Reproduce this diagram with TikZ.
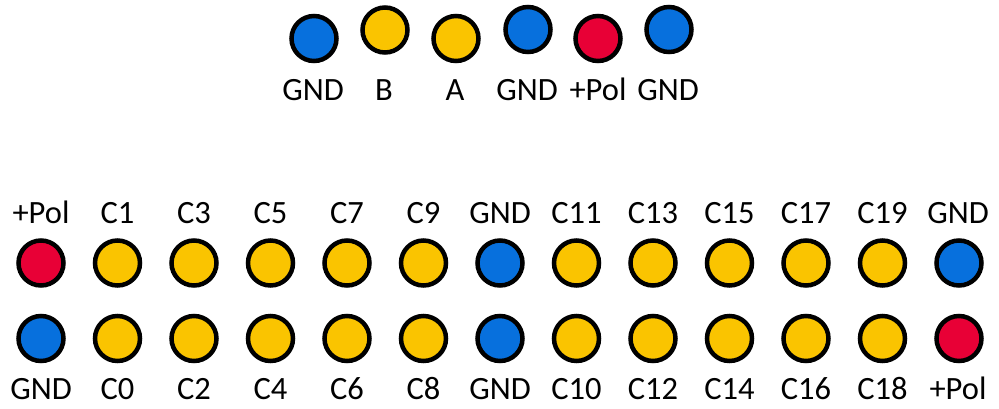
\documentclass[tikz,border=0pt]{standalone}
\usepackage{fontspec}
\setmainfont{Carlito}
\definecolor{pinblue}{RGB}{7,112,221}
\definecolor{pinyellow}{RGB}{250,196,0}
\definecolor{pinred}{RGB}{232,0,54}
\begin{document}
\begin{tikzpicture}[x=1pt,y=-1pt,
  pin/.style={circle,draw=black,line width=4.5pt,minimum size=45pt,inner sep=0pt},
  gnd/.style={pin,fill=pinblue},
  sig/.style={pin,fill=pinyellow},
  pol/.style={pin,fill=pinred},
  lbl/.style={anchor=base,inner sep=0pt,font=\fontsize{32.5}{36}\selectfont}]
\useasboundingbox (0,0) rectangle (999,408);
% top connector
\node[gnd] (t1) at (314,38.5) {};
\node[sig] (t2) at (385,30) {};
\node[sig] (t3) at (456,38.5) {};
\node[gnd] (t4) at (528,29.5) {};
\node[pol] (t5) at (598,38.5) {};
\node[gnd] (t6) at (669,29.5) {};
\node[lbl] (lt1) at (313,100) {GND};
\node[lbl] (lt2) at (384,100) {B};
\node[lbl] (lt3) at (455,100) {A};
\node[lbl] (lt4) at (527,100) {GND};
\node[lbl] (lt5) at (598,100) {+Pol};
\node[lbl] (lt6) at (668,100) {GND};
% bottom connector
\foreach \i/\st/\up/\dn in {0/pol/+Pol/GND, 1/sig/C1/C0, 2/sig/C3/C2, 3/sig/C5/C4, 4/sig/C7/C6,
  5/sig/C9/C8, 6/gnd/GND/GND, 7/sig/C11/C10, 8/sig/C13/C12, 9/sig/C15/C14, 10/sig/C17/C16,
  11/sig/C19/C18}{
  \node[\st] (u\i) at (41+76.5*\i,263) {};
  \node[lbl] (lu\i) at (41+76.5*\i,223) {\up};
  \node[lbl] (ld\i) at (41+76.5*\i,399) {\dn};
}
\foreach \i/\st in {0/gnd,1/sig,2/sig,3/sig,4/sig,5/sig,6/gnd,7/sig,8/sig,9/sig,10/sig,11/sig}{
  \node[\st] (d\i) at (41+76.5*\i,338.5) {};
}
\node[gnd] (u12) at (959,263) {};
\node[pol] (d12) at (959,338.5) {};
\node[lbl] (lu12) at (958,223) {GND};
\node[lbl] (ld12) at (958,399) {+Pol};
\end{tikzpicture}
\end{document}
